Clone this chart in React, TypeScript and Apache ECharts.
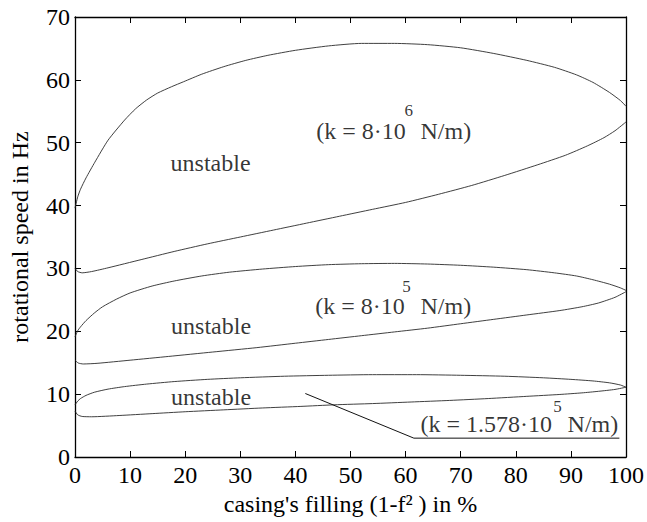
import React, { useEffect, useRef } from "react";
import * as echarts from "echarts";

// ---- data (x: casing's filling in %, y: rotational speed in Hz) ----
const k8e6Upper: [number, number][] = [
  [0, 39.6], [0.5, 41.4], [1, 42.6], [2, 44.4], [3.6, 46.9], [6, 50.4], [9, 53.6], [11, 55.4],
  [13, 56.8], [15, 57.9], [17.5, 58.9], [19.7, 59.7], [23, 60.9], [27, 62.1], [31, 63.1],
  [35, 63.9], [40, 64.7], [46, 65.4], [52, 65.8], [58, 65.8], [64, 65.6], [70, 65.1], [76, 64.2],
  [82, 63.1], [87, 62.0], [91, 60.8], [94, 59.6], [97, 58.0], [99, 56.7], [100, 55.8],
];
const k8e6Lower: [number, number][] = [
  [0, 30.0], [0.5, 29.5], [1.3, 29.3], [3, 29.5], [6, 30.1], [12, 31.4], [18, 32.7], [24, 33.9],
  [30, 35.0], [36, 36.1], [42, 37.2], [48, 38.3], [54, 39.4], [60, 40.5], [66, 41.8], [72, 43.2],
  [78, 44.8], [84, 46.5], [89, 48.0], [93, 49.5], [96, 50.8], [98, 51.9], [100, 53.3],
];
const k8e5Upper: [number, number][] = [
  [0, 19.1], [0.5, 20.1], [1, 20.7], [2, 21.7], [3.5, 22.9], [5, 23.9], [7.5, 25.1], [10, 26.1],
  [14, 27.2], [18, 28.0], [23, 28.8], [28, 29.4], [34, 29.9], [40, 30.3], [46, 30.6], [52, 30.75],
  [58, 30.8], [64, 30.7], [70, 30.5], [76, 30.2], [82, 29.8], [87, 29.3], [91, 28.8], [94, 28.2],
  [97, 27.5], [99, 26.9], [100, 26.5],
];
const k8e5Lower: [number, number][] = [
  [0, 15.4], [0.6, 14.95], [1.5, 14.8], [4, 14.9], [10, 15.4], [17, 16.0], [25, 16.7], [33, 17.4],
  [40, 18.1], [46, 18.7], [52, 19.3], [58, 19.9], [64, 20.5], [70, 21.2], [76, 21.9], [82, 22.6],
  [88, 23.3], [92, 23.9], [95, 24.5], [98, 25.4], [100, 26.3],
];
const k1578Upper: [number, number][] = [
  [0, 8.3], [0.5, 8.9], [1, 9.3], [2, 9.8], [3.5, 10.3], [6, 10.8], [9, 11.2], [13, 11.6],
  [18, 12.0], [24, 12.35], [30, 12.6], [38, 12.85], [46, 13.0], [54, 13.1], [62, 13.1],
  [70, 13.0], [78, 12.85], [85, 12.6], [90, 12.35], [94, 12.1], [97, 11.8], [99, 11.45], [100, 11.1],
];
const k1578Lower: [number, number][] = [
  [0, 7.3], [0.5, 6.7], [1.3, 6.45], [3, 6.4], [8, 6.6], [14, 6.9], [20, 7.2], [27, 7.5],
  [34, 7.8], [41, 8.05], [47, 8.3], [54, 8.5], [61, 8.75], [68, 9.0], [75, 9.3], [82, 9.65],
  [88, 9.95], [92, 10.2], [95, 10.45], [98, 10.75], [100, 11.1],
];
const leaderLine: [number, number][] = [[41.8, 10.1], [61.5, 3.0], [98.8, 3.0]];

const xLabel = "casing's filling (1-f² ) in %";
const yLabel = "rotational speed in Hz";
const unstableText = "unstable";
const k1Text = ["(k = 8·10", "6", "N/m)"];
const k2Text = ["(k = 8·10", "5", "N/m)"];
const k3Text = ["(k = 1.578·10", "5", "N/m)"];

const FONT = "'Liberation Serif', 'Times New Roman', serif";

export default function App() {
  const ref = useRef<HTMLDivElement>(null);
  useEffect(() => {
    if (!ref.current) return;
    const chart = echarts.init(ref.current, null, { renderer: "svg" });

    const curve = (data: [number, number][]) => ({
      type: "line",
      data,
      symbol: "none",
      showSymbol: false,
      smooth: 0.2,
      silent: true,
      lineStyle: { color: "#2a2a2a", width: 0.9 },
      xAxisIndex: 0,
      yAxisIndex: 0,
    });

    // annotation placement (x, y in data units)
    const notes = [
      { t: unstableText, x: 24.6, y: 46.8, align: "center", size: 24 },
      { t: unstableText, x: 24.7, y: 20.9, align: "center", size: 24 },
      { t: unstableText, x: 24.7, y: 9.6, align: "center", size: 24 },
      { t: k1Text[0], x: 43.8, y: 51.9, align: "left", size: 24 },
      { t: k1Text[1], x: 59.8, y: 55.1, align: "left", size: 17 },
      { t: k1Text[2], x: 62.7, y: 51.9, align: "left", size: 24 },
      { t: k2Text[0], x: 43.6, y: 24.1, align: "left", size: 24 },
      { t: k2Text[1], x: 59.4, y: 27.1, align: "left", size: 17 },
      { t: k2Text[2], x: 62.7, y: 24.1, align: "left", size: 24 },
      { t: k3Text[0], x: 62.7, y: 5.2, align: "left", size: 24 },
      { t: k3Text[1], x: 86.8, y: 8.0, align: "left", size: 17 },
      { t: k3Text[2], x: 89.4, y: 5.2, align: "left", size: 24 },
    ];

    const axisLine = { show: true, onZero: false, lineStyle: { color: "#000", width: 1.3 } };
    const axisTick = { show: true, inside: true, length: 6, lineStyle: { color: "#000", width: 1 } };

    chart.setOption({
      animation: false,
      backgroundColor: "#fff",
      grid: { left: 73, right: 15, top: 17, bottom: 65, containLabel: false },
      xAxis: [
        {
          type: "value", min: 0, max: 100, interval: 10, position: "bottom",
          name: xLabel, nameLocation: "middle", nameGap: 33,
          nameTextStyle: { fontFamily: FONT, fontSize: 24, color: "#000" },
          axisLine, axisTick,
          axisLabel: { fontFamily: FONT, fontSize: 24, color: "#000", margin: 6 },
          splitLine: { show: false },
        },
        {
          type: "value", min: 0, max: 100, interval: 10, position: "top",
          axisLine, axisTick, axisLabel: { show: false }, splitLine: { show: false },
        },
      ],
      yAxis: [
        {
          type: "value", min: 0, max: 70, interval: 10, position: "left",
          name: yLabel, nameLocation: "middle", nameGap: 43, nameRotate: 90,
          nameTextStyle: { fontFamily: FONT, fontSize: 24, color: "#000" },
          axisLine, axisTick,
          axisLabel: { fontFamily: FONT, fontSize: 24, color: "#000", margin: 5 },
          splitLine: { show: false },
        },
        {
          type: "value", min: 0, max: 70, interval: 10, position: "right",
          axisLine, axisTick, axisLabel: { show: false }, splitLine: { show: false },
        },
      ],
      series: [
        curve(k8e6Upper), curve(k8e6Lower),
        curve(k8e5Upper), curve(k8e5Lower),
        curve(k1578Upper), curve(k1578Lower),
        {
          type: "line", data: leaderLine, symbol: "none", showSymbol: false, silent: true,
          lineStyle: { color: "#111", width: 1 }, xAxisIndex: 0, yAxisIndex: 0,
        },
        {
          type: "scatter", silent: true, symbolSize: 1, xAxisIndex: 0, yAxisIndex: 0,
          itemStyle: { color: "rgba(0,0,0,0)" },
          data: notes.map((n) => ({
            value: [n.x, n.y],
            label: {
              show: true, position: "inside", formatter: n.t, align: n.align,
              verticalAlign: "middle", fontFamily: FONT, fontSize: n.size, color: "#000",
            },
          })),
        },
      ],
    });
    return () => chart.dispose();
  }, []);
  return (
    <div
      ref={ref}
      style={{ position: "fixed", left: 0, top: 0, width: 647, height: 522, background: "#fff" }}
    />
  );
}
